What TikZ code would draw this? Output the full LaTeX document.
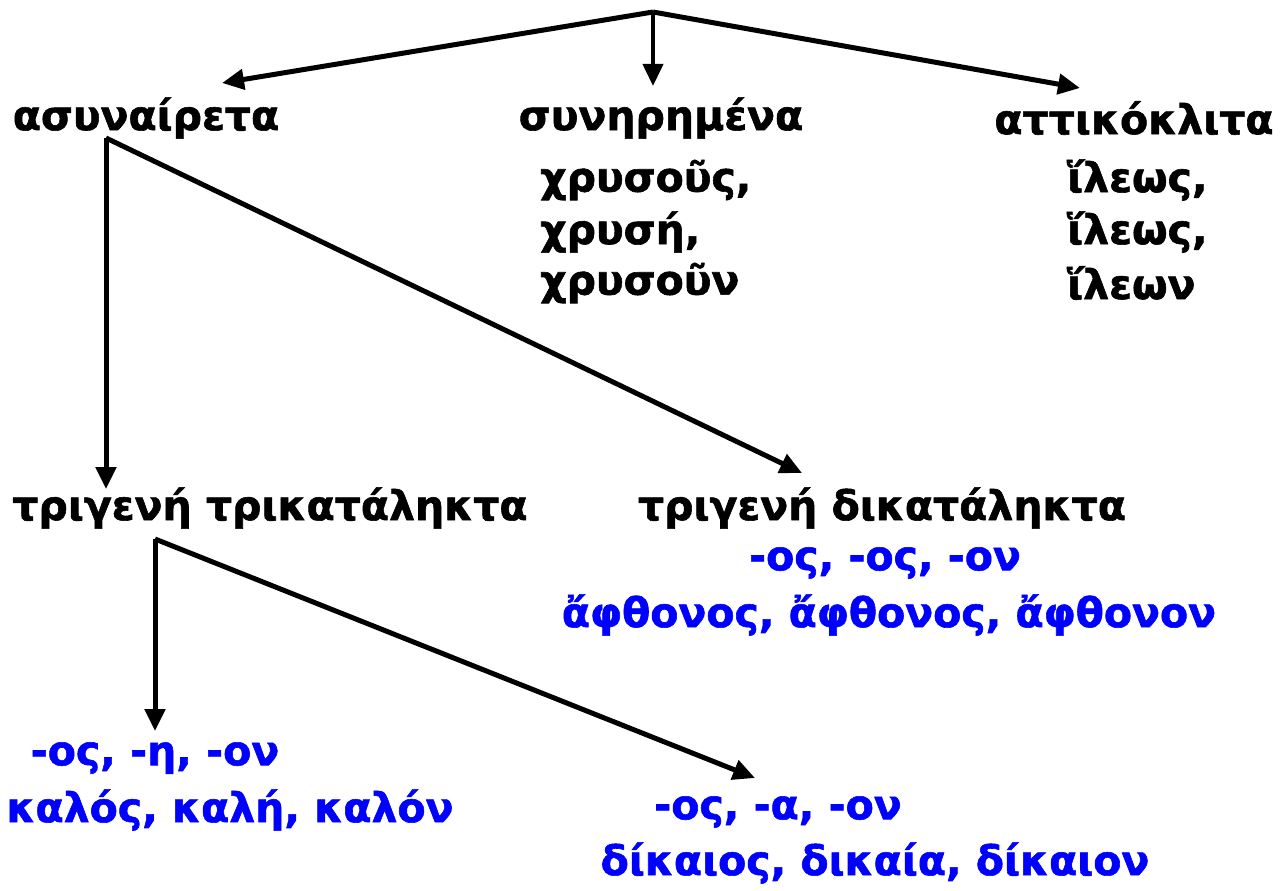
\documentclass[tikz,border=0pt]{standalone}
\usepackage{fontspec}
\setmainfont{DejaVu Sans}[BoldFeatures={FakeBold=1.4}]
\usetikzlibrary{arrows.meta}
\definecolor{tblue}{RGB}{0,0,255}
\tikzset{
  lbl/.style={inner sep=0pt, font=\fontsize{41}{51}\selectfont\bfseries},
  blbl/.style={lbl, text=tblue},
  conn/.style={line width=5pt, -{Triangle[length=22pt,width=20pt]}},
  connthin/.style={line width=4pt, -{Triangle[length=22pt,width=20pt]}}
}
\begin{document}
\begin{tikzpicture}[x=1pt,y=-1pt]
\useasboundingbox (0,0) rectangle (1283,891);
% labels
\node[lbl] (asy) at (146,118) {ασυναίρετα};
\node[lbl] (syn) at (661,118) {συνηρημένα};
\node[lbl] (att) at (1134,118) {αττικόκλιτα};
\node[lbl,anchor=west] (x1) at (540,180) {χρυσοῦς,};
\node[lbl,anchor=west] (x2) at (540,232) {χρυσή,};
\node[lbl,anchor=west] (x3) at (540,283) {χρυσοῦν};
\node[lbl,anchor=west] (i1) at (1067,180) {ἵλεως,};
\node[lbl,anchor=west] (i2) at (1067,232) {ἵλεως,};
\node[lbl,anchor=west] (i3) at (1067,283) {ἵλεων};
\node[lbl] (trik) at (270,508) {τριγενή τρικατάληκτα};
\node[lbl] (dik) at (882,508) {τριγενή δικατάληκτα};
\node[blbl] (dend) at (885,563) {-ος, -ος, -ον};
\node[blbl] (dex) at (889,615) {ἄφθονος, ἄφθονος, ἄφθονον};
\node[blbl] (tend) at (155,758) {-ος, -η, -ον};
\node[blbl] (tex) at (230,810) {καλός, καλή, καλόν};
\node[blbl] (aend) at (778,812) {-ος, -α, -ον};
\node[blbl] (aex) at (875,863) {δίκαιος, δικαία, δίκαιον};
% connector coordinates
\coordinate (top) at (653,12);
\coordinate (tl) at (222,83);
\coordinate (tm) at (653,86);
\coordinate (tr) at (1080,88);
\coordinate (as) at (106,138);
\coordinate (asv) at (106,489);
\coordinate (asd) at (802,473);
\coordinate (ts) at (155,539);
\coordinate (tsv) at (155,731);
\coordinate (tsd) at (755,778);
% connectors
\draw[conn] (top) -- (tl);
\draw[connthin] (top) -- (tm);
\draw[conn] (top) -- (tr);
\draw[conn] (as) -- (asv);
\draw[conn] (as) -- (asd);
\draw[conn] (ts) -- (tsv);
\draw[conn] (ts) -- (tsd);
\end{tikzpicture}
\end{document}
